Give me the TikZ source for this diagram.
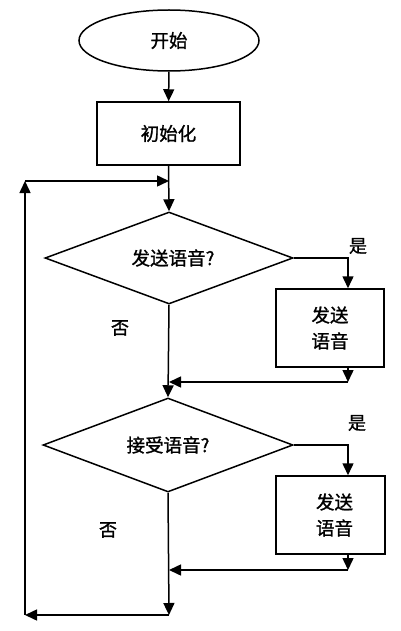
\documentclass[tikz,border=0pt]{standalone}
\usepackage{fontspec}
\newfontfamily\cjk[FakeBold=1.2]{Noto Sans CJK SC}
\usetikzlibrary{shapes.geometric,arrows.meta}
\tikzset{
  base/.style={draw=black, line width=1.5pt, font=\cjk\fontsize{18.5}{26}\selectfont, inner sep=0pt, align=center},
  startbox/.style={base, ellipse, minimum width=180pt, minimum height=61pt},
  procbox/.style={base, rectangle},
  decbox/.style={base, diamond, aspect=2.7},
  lbl/.style={font=\cjk\fontsize{18}{22}\selectfont, inner sep=0pt},
  conn/.style={line width=1.5pt, draw=black},
  arr/.style={conn, -{Triangle[length=12pt,width=11pt]}}
}
\begin{document}
\begin{tikzpicture}[x=1pt,y=-1pt]
\useasboundingbox (0,0) rectangle (400,631);
\node[startbox] (start) at (169,40.5) {开始};
\node[procbox, minimum width=143pt, minimum height=63pt] (init) at (168.5,133.5) {初始化};
\node[decbox, minimum width=248pt, minimum height=92pt] (d1) at (169,258) {\hspace*{8pt}发送语音?};
\node[procbox, minimum width=108pt, minimum height=78pt] (b1) at (330,328) {发送\\语音};
\node[decbox, minimum width=250pt, minimum height=94pt] (d2) at (168,445) {接受语音?};
\node[procbox, minimum width=109pt, minimum height=78pt] (b2) at (330.5,515) {\hspace*{8pt}发送\\\hspace*{8pt}语音};

\coordinate (loopTop) at (169,181);
\coordinate (loopLT) at (25,181);
\coordinate (loopLB) at (25,615);
\coordinate (bot) at (169,615);
\coordinate (j1) at (169,382);
\coordinate (j2) at (169,570);
\coordinate (c1) at (348,258);
\coordinate (c1b) at (348,382);
\coordinate (c2) at (348,445);
\coordinate (c2b) at (348,570);

\draw[arr] (start) -- (init);
\draw[arr] (init.south) -- (d1.north);
\draw[arr] (d1.south) -- (d2.north);
\draw[arr] (d1.east) -- (c1) -- (c1 |- b1.north);
\draw[arr] (c1 |- b1.south) -- (c1b);
\draw[arr] (c1b) -- (j1);
\draw[arr] (d2.east) -- (c2) -- (c2 |- b2.north);
\draw[arr] (c2 |- b2.south) -- (c2b);
\draw[arr] (c2b) -- (j2);
\draw[arr] (d2.south) -- (bot);
\draw[arr] (bot) -- (loopLB);
\draw[arr] (loopLB) -- (loopLT);
\draw[arr] (loopLT) -- (loopTop);

\node[lbl] (y1) at (358,246) {是};
\node[lbl] (y2) at (357,423) {是};
\node[lbl] (n1) at (120,328) {否};
\node[lbl] (n2) at (108,530) {否};
\end{tikzpicture}
\end{document}
